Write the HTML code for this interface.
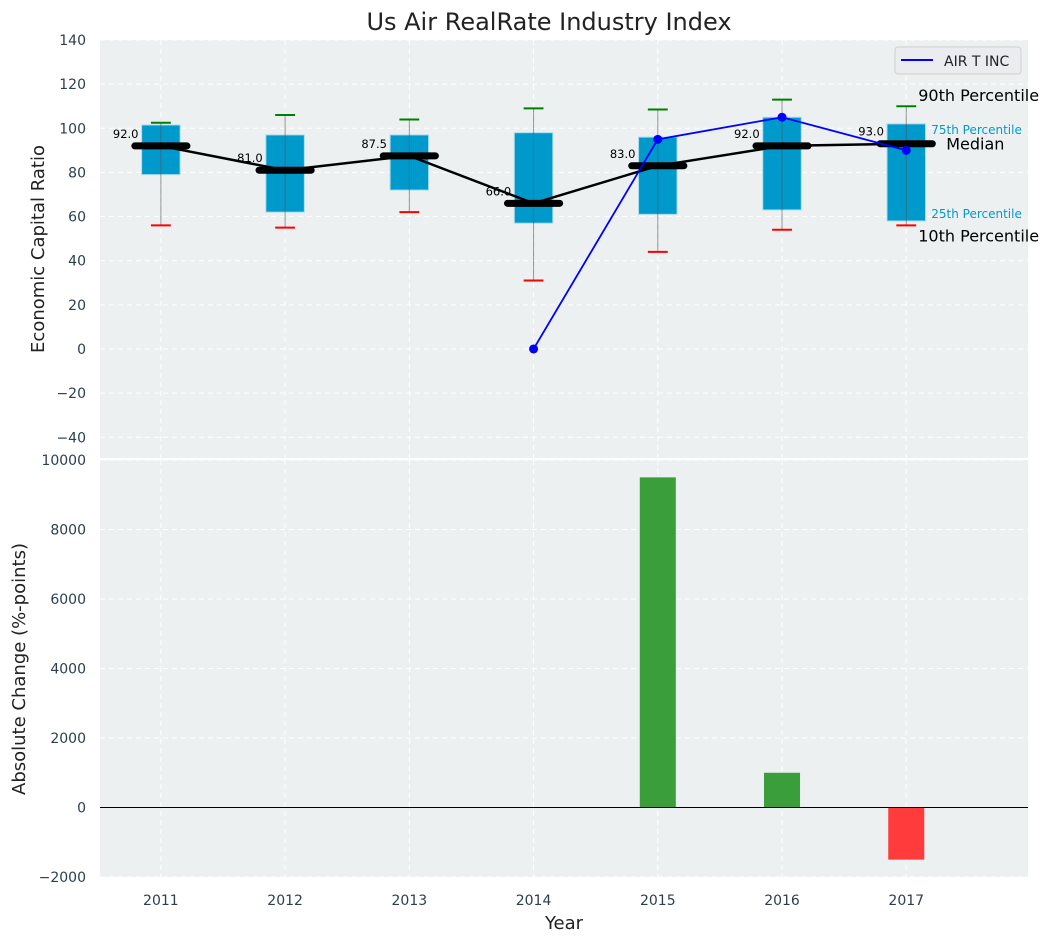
<!DOCTYPE html>
<html><head><meta charset="utf-8"><style>
body{margin:0;background:#fff;font-family:"Liberation Sans","DejaVu Sans",sans-serif}
svg text{font-family:"DejaVu Sans","Liberation Sans",sans-serif}
</style></head><body>
<svg id="c" width="1053" height="942" xmlns="http://www.w3.org/2000/svg"></svg>
<script>
const years=[2011,2012,2013,2014,2015,2016,2017];
const p10=[56,55,62,31,44,54,56];
const q1=[79,62,72,57,61,63,58];
const med=[92,81,87.5,66,83,92,93];
const q3=[101.5,97,97,98,96,105,102];
const p90=[102.5,106,104,109,108.5,113,110];
const coYears=[2014,2015,2016,2017];
const coVals=[0,95,105,90];
const chgYears=[2015,2016,2017];
const chgVals=[9500,1000,-1500];
const topTicks=[-40,-20,0,20,40,60,80,100,120,140];
const botTicks=[-2000,0,2000,4000,6000,8000,10000];

const S=document.getElementById('c');const NS='http://www.w3.org/2000/svg';
function el(t,a,txt,p){const e=document.createElementNS(NS,t);for(const k in a)e.setAttribute(k,a[k]);if(txt!=null)e.textContent=txt;(p||S).appendChild(e);return e;}
const L=100,R=1028;
const x=v=>L+(v-2010.51)/(2017.98-2010.51)*(R-L);
const T0=40,T1=458,B0=460,B1=877;
const yt=v=>T0+(140-v)/(140-(-49.4))*(T1-T0);
const yb=v=>B0+(10000-v)/(12000)*(B1-B0);

let e;
e=el('rect',{x:L,y:T0,width:R-L,height:T1-T0,fill:'#ecf0f1'});

e=el('rect',{x:L,y:B0,width:R-L,height:B1-B0,fill:'#ecf0f1'});

years.forEach(yr=>{
 el('line',{x1:x(yr),x2:x(yr),y1:T0,y2:T1,stroke:'#fff','stroke-dasharray':'5,4','stroke-width':1});
 el('line',{x1:x(yr),x2:x(yr),y1:B0,y2:B1,stroke:'#fff','stroke-dasharray':'5,4','stroke-width':1});
 e=el('text',{x:x(yr),y:B1+28,'text-anchor':'middle','font-size':14,fill:'#2c3e50'},yr);
 
});
topTicks.forEach(t=>{
 el('line',{x1:L,x2:R,y1:yt(t),y2:yt(t),stroke:'#fff','stroke-dasharray':'5,4'});
 e=el('text',{x:L-14,y:yt(t)+5,'text-anchor':'end','font-size':14,fill:'#2c3e50'},t<0?'−'+(-t):t);
 
});
botTicks.forEach(t=>{
 el('line',{x1:L,x2:R,y1:yb(t),y2:yb(t),stroke:'#fff','stroke-dasharray':'5,4'});
 e=el('text',{x:L-14,y:yb(t)+5,'text-anchor':'end','font-size':14,fill:'#2c3e50'},t<0?'−'+(-t):t);
 
});
const hw=0.155, mw=0.21, cw=0.08;
years.forEach((yr,i)=>{
 e=el('rect',{x:x(yr-hw),y:yt(q3[i]),width:x(yr+hw)-x(yr-hw),height:yt(q1[i])-yt(q3[i]),fill:'#0099cc',stroke:'#aadcee','stroke-width':1});
 
 el('line',{x1:x(yr),x2:x(yr),y1:yt(p10[i]),y2:yt(p90[i]),stroke:'#555','stroke-opacity':0.6,'stroke-width':1});
 e=el('line',{x1:x(yr-cw),x2:x(yr+cw),y1:yt(p90[i]),y2:yt(p90[i]),stroke:'green','stroke-width':2});
 
 e=el('line',{x1:x(yr-cw),x2:x(yr+cw),y1:yt(p10[i]),y2:yt(p10[i]),stroke:'red','stroke-width':2});
 
});
e=el('polyline',{points:years.map((yr,i)=>x(yr)+','+yt(med[i])).join(' '),fill:'none',stroke:'#000','stroke-width':2.5});

years.forEach((yr,i)=>{
 e=el('line',{x1:x(yr-mw),x2:x(yr+mw),y1:yt(med[i]),y2:yt(med[i]),stroke:'#000','stroke-width':7,'stroke-linecap':'round'});
 
 e=el('text',{x:x(yr-0.18),y:yt(med[i])-8,'text-anchor':'end','font-size':11.5,fill:'#000'},med[i].toFixed(1));
 
});
e=el('polyline',{points:coYears.map((yr,i)=>x(yr)+','+yt(coVals[i])).join(' '),fill:'none',stroke:'#0000ff','stroke-width':1.8});

coYears.forEach((yr,i)=>{e=el('circle',{cx:x(yr),cy:yt(coVals[i]),r:4.5,fill:'#0000ff'});
 });
const ly=years.length-1,lx=x(years[ly]);
[['90th Percentile',lx+12,yt(p90[ly])-5,16,'#000'],['75th Percentile',lx+25,yt(q3[ly])+10,12,'#0099cc'],['Median',lx+40,yt(med[ly])+6,16,'#000'],['25th Percentile',lx+25,yt(q1[ly])-3,12,'#0099cc'],['10th Percentile',lx+12,yt(p10[ly])+16,16,'#000']].forEach(a=>{
 e=el('text',{x:a[1],y:a[2],'font-size':a[3],fill:a[4]},a[0]);
 
});
const lg=el('g',{});
el('rect',{x:895,y:47,width:126,height:27,rx:3,fill:'#eaecef',stroke:'#d0d0d0'},null,lg);
el('line',{x1:901,x2:933,y1:60,y2:60,stroke:'#0000ff','stroke-width':2},null,lg);
el('text',{x:944,y:66,'font-size':14,fill:'#222'},'AIR T INC',lg);
chgYears.forEach((yr,i)=>{const v=chgVals[i];
 e=el('rect',{x:x(yr-0.145),y:Math.min(yb(v),yb(0)),width:x(yr+0.145)-x(yr-0.145),height:Math.abs(yb(v)-yb(0)),fill:v>=0?'#3a9e3a':'#ff3b3b'});
 
});
el('line',{x1:L,x2:R,y1:yb(0),y2:yb(0),stroke:'#000','stroke-width':1});
e=el('text',{x:549,y:30,'text-anchor':'middle','font-size':24,fill:'#222'},'Us Air RealRate Industry Index');

e=el('text',{x:0,y:0,'text-anchor':'middle','font-size':18,fill:'#222',transform:'translate(44,249) rotate(-90)'},'Economic Capital Ratio');

e=el('text',{x:0,y:0,'text-anchor':'middle','font-size':18,fill:'#222',transform:'translate(25,669) rotate(-90)'},'Absolute Change (%-points)');

e=el('text',{x:564,y:929,'text-anchor':'middle','font-size':18,fill:'#222'},'Year');

</script></body></html>
